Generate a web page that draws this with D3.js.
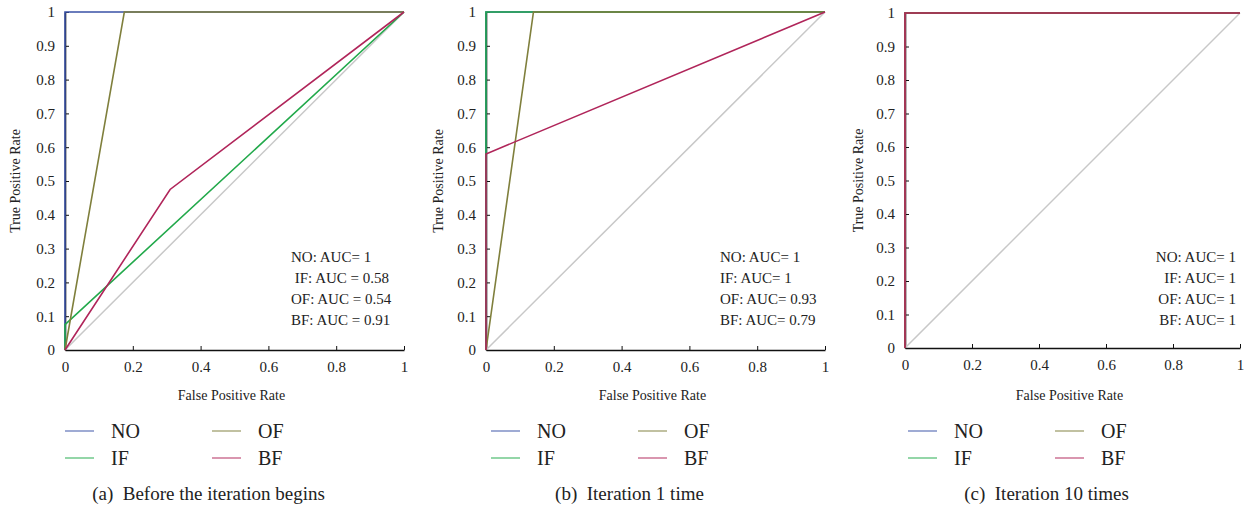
<!DOCTYPE html>
<meta charset="utf-8">
<style>
  body { margin: 0; background: #fff; }
  svg text { font-family: "Liberation Serif", "Times New Roman", Times, "DejaVu Serif", "Noto Serif", serif !important; }
</style>
<svg width="1251" height="509"></svg>
<script src="https://d3js.org/d3.v7.min.js"></script>
<script>

// series names and colours (drawn in this order)
var seriesNames = ["NO", "IF", "OF", "BF"];
var seriesColors = ["#3a52a6", "#22a94b", "#7f7f3c", "#b0255a"];

// ROC points per panel, one array per series: [FPR, TPR]
var rocA = [
  [[0, 0], [0, 1], [1, 1]],
  [[0, 0], [0, 0.075], [1, 1]],
  [[0, 0], [0.175, 1], [1, 1]],
  [[0, 0], [0.31, 0.475], [1, 1]]
];
var rocB = [
  [[0, 0], [0, 1], [1, 1]],
  [[0, 0], [0, 1], [1, 1]],
  [[0, 0], [0.14, 1], [1, 1]],
  [[0, 0], [0, 0.58], [1, 1]]
];
var rocC = [
  [[0, 0], [0, 1], [1, 1]],
  [[0, 0], [0, 1], [1, 1]],
  [[0, 0], [0, 1], [1, 1]],
  [[0, 0], [0, 1], [1, 1]]
];
var diagonal = [[0, 0], [1, 1]];

var aucA = ["NO: AUC= 1", " IF: AUC = 0.58", "OF: AUC = 0.54", "BF: AUC = 0.91"];
var aucB = ["NO: AUC= 1", "IF: AUC= 1", "OF: AUC= 0.93", "BF: AUC= 0.79"];
var aucC = ["NO: AUC= 1", "IF: AUC= 1", "OF: AUC= 1", "BF: AUC= 1"];

var captions = ["(a)  Before the iteration begins", "(b)  Iteration 1 time", "(c)  Iteration 10 times"];

var xTicks = [0, 0.2, 0.4, 0.6, 0.8, 1];
var yTicks = [0, 0.1, 0.2, 0.3, 0.4, 0.5, 0.6, 0.7, 0.8, 0.9, 1];

var serif = "Liberation Serif, Times New Roman, DejaVu Serif, serif";

// panel frames
var panels = [
  {roc: rocA, auc: aucA, cap: captions[0], x0: 65, x1: 404, y0: 350, y1: 12, aucX: 291, aucAnchor: "start", yLab: 20, legX: 65},
  {roc: rocB, auc: aucB, cap: captions[1], x0: 486, x1: 825, y0: 350, y1: 12, aucX: 720, aucAnchor: "start", yLab: 443, legX: 491},
  {roc: rocC, auc: aucC, cap: captions[2], x0: 905, x1: 1240, y0: 348, y1: 13, aucX: 1236, aucAnchor: "end", yLab: 863, legX: 908}
];

var svg = d3.select("svg").attr("font-family", serif);

panels.forEach(function(p) {
  var g = svg.append("g");
  var x = d3.scaleLinear().domain([0, 1]).range([p.x0, p.x1]);
  var y = d3.scaleLinear().domain([0, 1]).range([p.y0, p.y1]);
  var line = d3.line().x(function(d) { return x(d[0]); }).y(function(d) { return y(d[1]); });

  // axes (ticks pointing inward)
  var xAxis = g.append("g")
      .attr("transform", "translate(0," + p.y0 + ")")
      .call(d3.axisBottom(x).tickValues(xTicks).tickSizeInner(-4).tickSizeOuter(0)
        .tickFormat(d3.format("~g")).tickPadding(8));
  var yAxis = g.append("g")
      .attr("transform", "translate(" + p.x0 + ",0)")
      .call(d3.axisLeft(y).tickValues(yTicks).tickSizeInner(-4).tickSizeOuter(0)
        .tickFormat(d3.format("~g")).tickPadding(10));
  [xAxis, yAxis].forEach(function(a) {
    a.attr("font-family", serif).attr("font-size", 15);
    a.select(".domain").attr("stroke", "#111").attr("stroke-width", 1.6);
    a.selectAll(".tick line").attr("stroke", "#111");
    a.selectAll(".tick text").attr("fill", "#222");
  });
  xAxis.selectAll(".tick text").attr("dy", "0.9em");

  // reference diagonal
  g.append("path").datum(diagonal)
      .attr("d", line).attr("fill", "none")
      .attr("stroke", "#c8c8c8").attr("stroke-width", 1.5);

  // ROC curves
  g.selectAll(".roc").data(p.roc).enter().append("path")
      .attr("class", "roc")
      .attr("d", line)
      .attr("fill", "none")
      .attr("stroke", function(d, i) { return seriesColors[i]; })
      .attr("stroke-width", 1.6);

  // AUC notes
  g.selectAll(".auc").data(p.auc).enter().append("text")
      .attr("x", p.aucX)
      .attr("y", function(d, i) { return 262 + i * 21; })
      .attr("text-anchor", p.aucAnchor)
      .attr("fill", "#222")
      .attr("font-size", 15)
      .style("white-space", "pre")
      .text(function(d) { return d; });

  // axis titles
  g.append("text")
      .attr("x", (p.x0 + p.x1) / 2 - 3)
      .attr("y", 400)
      .attr("text-anchor", "middle")
      .attr("fill", "#222")
      .attr("font-size", 14)
      .text("False Positive Rate");
  g.append("text")
      .attr("transform", "translate(" + p.yLab + "," + ((p.y0 + p.y1) / 2) + ") rotate(-90)")
      .attr("text-anchor", "middle")
      .attr("fill", "#222")
      .attr("font-size", 14)
      .text("True Positive Rate");

  // legend, two columns
  var leg = g.selectAll(".leg").data(seriesNames).enter().append("g")
      .attr("transform", function(d, i) {
        var col = i === 2 || i === 3 ? 1 : 0;
        var row = i === 1 || i === 3 ? 1 : 0;
        return "translate(" + (p.legX + col * 147) + "," + (431 + row * 27) + ")";
      });
  leg.append("line")
      .attr("x1", 0).attr("x2", 29)
      .attr("stroke", function(d, i) { return seriesColors[i]; })
      .attr("stroke-opacity", 0.75)
      .attr("stroke-width", 1.3);
  leg.append("text")
      .attr("x", 46).attr("y", 7)
      .attr("fill", "#222")
      .attr("font-size", 20)
      .text(function(d) { return d; });

  // caption
  g.append("text")
      .attr("x", (p.x0 + p.x1) / 2 - 26)
      .attr("y", 500)
      .attr("text-anchor", "middle")
      .attr("fill", "#222")
      .attr("font-size", 19)
      .style("white-space", "pre")
      .text(p.cap);
});

</script>
